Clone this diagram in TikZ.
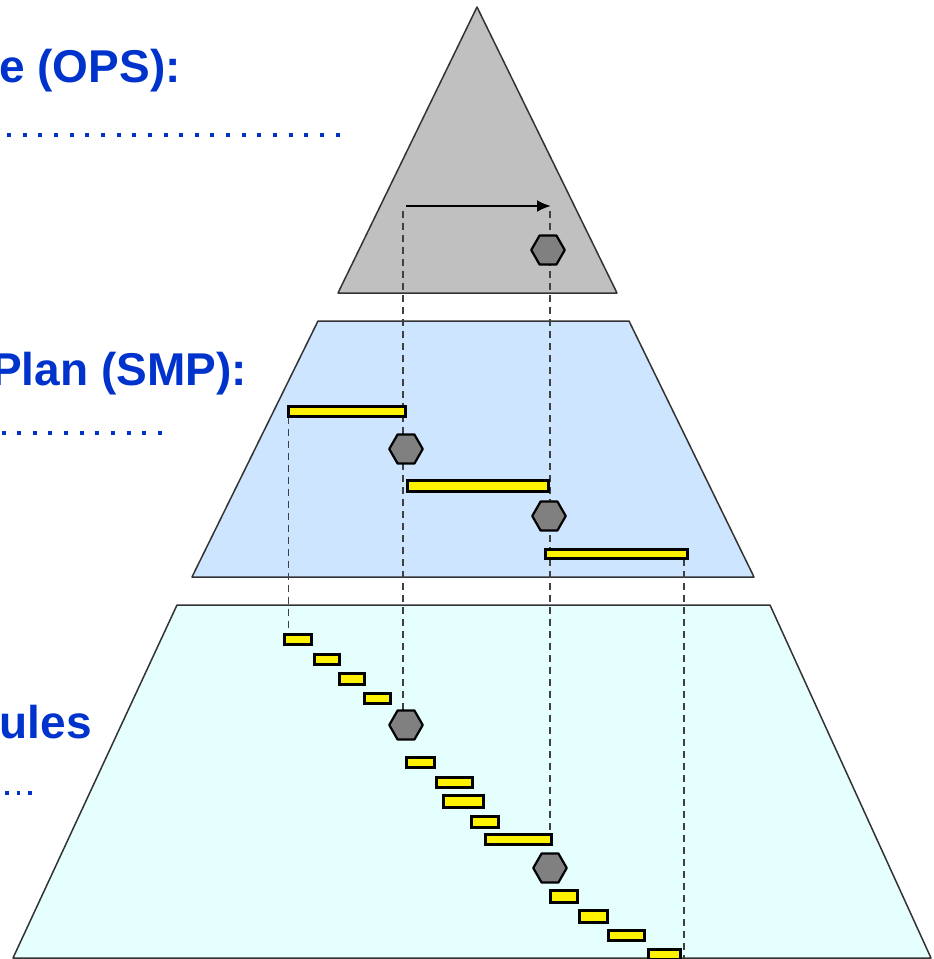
\documentclass[tikz,border=0pt]{standalone}
\usepackage{fontspec}
\setmainfont{Liberation Sans}
\usetikzlibrary{shapes.geometric,arrows.meta}
\definecolor{opsgray}{RGB}{192,192,192}
\definecolor{smpblue}{RGB}{206,229,255}
\definecolor{schcyan}{RGB}{229,255,255}
\definecolor{txtblue}{RGB}{0,51,204}
\definecolor{edgegray}{RGB}{51,51,51}
\definecolor{hexgray}{RGB}{128,128,128}
\newcommand\barbox[5]{\node[barnode,minimum width=#4pt-3pt,minimum height=#5pt-3pt] (#1) at (#2,#3) {};}
\begin{document}
\begin{tikzpicture}[x=1pt,y=-1pt,
  level/.style={draw=edgegray,line width=1.5pt,line join=round},
  hexa/.style={regular polygon,regular polygon sides=6,minimum size=31pt,inner sep=0pt,draw=black,line width=2.2pt,fill=hexgray},
  barnode/.style={draw=black,fill=yellow,line width=3pt,inner sep=0pt,outer sep=0pt},
  guide/.style={draw=black!75,line width=1.6pt,dash pattern=on 7pt off 5pt},
  title/.style={text=txtblue,font=\fontsize{46}{55}\selectfont\bfseries,inner sep=0pt,anchor=base east},
  leader/.style={draw=txtblue,line width=4pt}
]
\useasboundingbox (0,0) rectangle (934,959);
\clip (0,0) rectangle (934,959);

% levels
\path[level,fill=schcyan] (177,605) -- (770,605) -- (931,958) -- (13,958) -- cycle;
\path[level,fill=smpblue] (318,321) -- (629,321) -- (754,577) -- (192,577) -- cycle;
\path[level,fill=opsgray] (477,7) -- (617,293) -- (338,293) -- cycle;

% coordinates
\coordinate (a0) at (406,206);
\coordinate (a1) at (551,206);
\coordinate (g1) at (403,211);
\coordinate (g2) at (550,211);
\coordinate (g4) at (684,559);

% bars of the SMP
\barbox{B1}{347}{411.5}{120}{13}
\barbox{B2}{478}{486}{144}{14}
\barbox{B3}{616.5}{553.5}{145}{12}

% bars of the schedules
\barbox{b1}{298}{639.5}{30}{13}
\barbox{b2}{327}{659.5}{28}{13}
\barbox{b3}{352}{679}{28}{14}
\barbox{b4}{377.5}{698.5}{29}{13}
\barbox{b5}{420.5}{762.5}{31}{13}
\barbox{b6}{454.5}{782.5}{39}{13}
\barbox{b7}{463.5}{801.5}{43}{15}
\barbox{b8}{485}{822}{30}{14}
\barbox{b9}{518.5}{839.5}{69}{13}
\barbox{b10}{564}{896.5}{30}{15}
\barbox{b11}{593.5}{916.5}{31}{15}
\barbox{b12}{626.5}{935.5}{39}{13}
\barbox{b13}{664.5}{954.5}{35}{13}

% milestones
\node[hexa] (H1) at (548,250) {};
\node[hexa] (H2) at (406,449) {};
\node[hexa] (H3) at (549,516) {};
\node[hexa] (H4) at (406,725) {};
\node[hexa] (H5) at (550,868) {};

% dashed guides
\draw[guide] (g1) -- (g1 |- H4.north);
\draw[guide] (g2) -- (g2 |- b9.north);
\draw[guide] (B1.south west) -- (B1.south west |- b1.north);
\draw[guide] (g4) -- ([yshift=-8pt]g4 |- b13.north);

% redraw bars and milestones over the guides
\foreach \n in {B1,B2,B3,b1,b2,b3,b4,b5,b6,b7,b8,b9,b10,b11,b12,b13}{
  \path[barnode] (\n.north west) rectangle (\n.south east);
}
\foreach \n in {H1,H2,H3,H4,H5}{
  \path[draw=black,line width=2.2pt,fill=hexgray,line join=round] (\n.corner 1) -- (\n.corner 2) -- (\n.corner 3) -- (\n.corner 4) -- (\n.corner 5) -- (\n.corner 6) -- cycle;
}

% arrow
\draw[line width=2.4pt,-{Latex[length=14pt,width=12pt]}] (a0) -- (a1);

% titles
\node[title] (t1) at (181,82) {e (OPS):};
\node[title] (t2) at (247,385) {Plan (SMP):};
\node[title] (t3) at (92,738) {ules};

% dotted leaders
\coordinate (d1a) at (7,135);
\coordinate (d1b) at (340,135);
\coordinate (d2a) at (1.5,433);
\coordinate (d2b) at (165,433);
\coordinate (d3a) at (5,793);
\coordinate (d3b) at (34,793);
\draw[leader,dash pattern=on 4pt off 11.65pt] (d1a) -- (d1b);
\draw[leader,dash pattern=on 4pt off 11.65pt] (d2a) -- (d2b);
\draw[leader,dash pattern=on 3.5pt off 8.2pt] (d3a) -- (d3b);
\end{tikzpicture}
\end{document}
